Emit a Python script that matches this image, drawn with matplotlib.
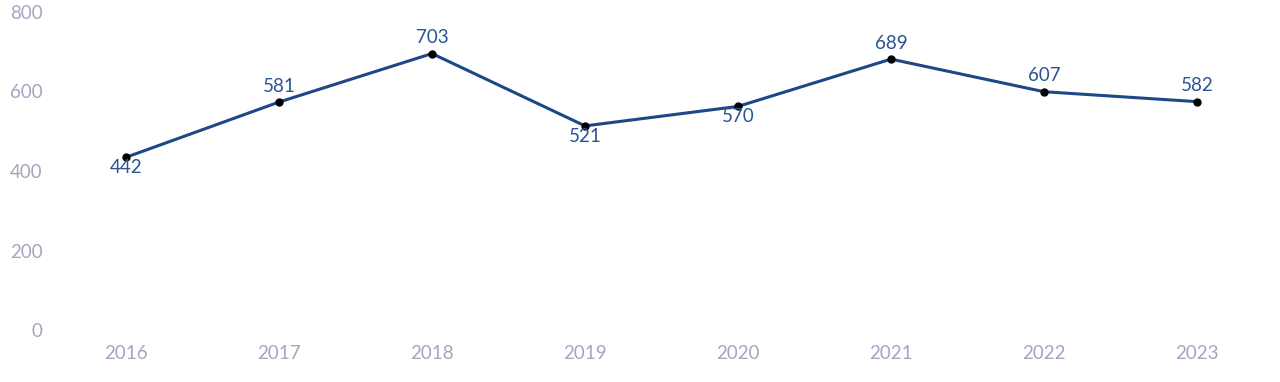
import matplotlib
matplotlib.use("Agg")
import matplotlib.pyplot as plt
import matplotlib.transforms as mtrans

years = ["2016", "2017", "2018", "2019", "2020", "2021", "2022", "2023"]
values = [442, 581, 703, 521, 570, 689, 607, 582]
label_pos = ["below", "above", "above", "below", "below", "above", "above", "above"]
yticks = [0, 200, 400, 600, 800]

plt.rcParams['font.family'] = ['Lato', 'DejaVu Sans']

fig = plt.figure(figsize=(12.8, 3.82), dpi=100)
ax = fig.add_axes([49.5/1280, 49/382, (1273.5-49.5)/1280, (333-15)/382])

x = list(range(len(years)))
line_color = "#1d4887"
ax.plot(x, values, color=line_color, lw=2.2, zorder=2)
ax.plot(x, values, 'o', color="black", markersize=5, zorder=3)

for xi, v, p in zip(x, values, label_pos):
    dy = 11.5 if p == "above" else -7.5
    ax.annotate(str(v), (xi, v), xytext=(0, dy), textcoords="offset points",
                ha="center", va="center", fontsize=13.5, color="#2b5391")

ax.set_xlim(-0.5, len(years) - 0.5)
ax.set_ylim(0, 800)
ax.set_xticks(x)
ax.set_xticklabels(years)
ax.set_yticks(yticks)
ax.set_yticklabels([str(t) for t in yticks])
ax.tick_params(axis='both', length=0, labelsize=13.5, labelcolor="#a3a6c2")
ax.tick_params(axis='x', pad=8.5)
ax.tick_params(axis='y', pad=5)
off = mtrans.ScaledTranslation(0, 3/100, fig.dpi_scale_trans)
for lbl in ax.get_yticklabels():
    lbl.set_transform(lbl.get_transform() + off)
for s in ax.spines.values():
    s.set_visible(False)

fig.savefig("out.png", dpi=100)
